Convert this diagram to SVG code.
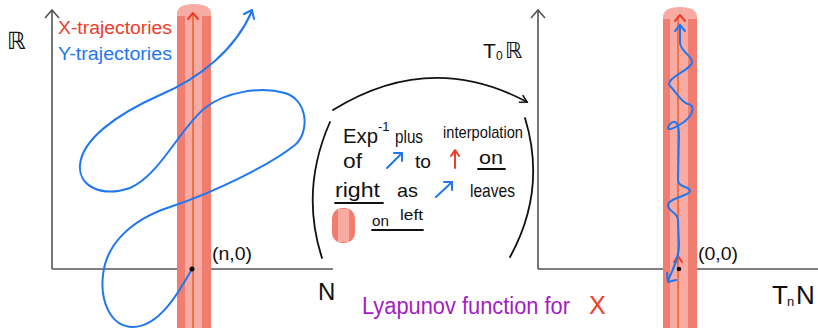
<svg xmlns="http://www.w3.org/2000/svg" width="818" height="328" viewBox="0 0 818 328">
<style>
.ax{stroke:#555;stroke-width:1.6;fill:none}
.bandD{fill:#f17c70}
.bandL{fill:#f7aba3}
.ctr{stroke:#f0622e;stroke-width:1.6;fill:none}
.blue{stroke:#1f77f2;stroke-width:2;fill:none;stroke-linecap:round;stroke-linejoin:round}
.red{stroke:#f03c28;stroke-width:2;fill:none;stroke-linecap:round;stroke-linejoin:round}
.ink{stroke:#111;stroke-width:1.8;fill:none;stroke-linecap:round}
.t{font-family:"Liberation Sans","DejaVu Sans",sans-serif;fill:#111}
.bb{font-family:"DejaVu Sans",sans-serif;fill:#111}
</style>
<defs>
<marker id="ah" markerWidth="10" markerHeight="10" refX="8" refY="5" orient="auto" markerUnits="userSpaceOnUse">
<path d="M1,1 L8,5 L1,9" fill="none" stroke="#111" stroke-width="1.6"/>
</marker>
</defs>
<rect width="818" height="328" fill="#fff"/>

<g id="left-plot">
<path class="ax" d="M52,269 V10 M45,18 L52,10 L59,18 M52,269 H333"/>
<text class="bb" x="7" y="49" font-size="24">ℝ</text>
<text class="t" x="318" y="300" font-size="24">N</text>
</g>

<g id="left-band">
<path class="bandL" d="M177,328 V14 Q177,4 194,4 Q211,4 211,14 V328 Z"/>
<rect class="bandD" x="177" y="16" width="8" height="312"/>
<rect class="bandD" x="202" y="16" width="9" height="312"/>
<path class="ctr" d="M193,328 V14"/>
<path class="red" d="M188,19 L193,13 L198,19" stroke-width="1.6"/>
</g>

<g id="legend">
<text class="t" x="58" y="34" font-size="18" style="fill:#f03c28" textLength="114" lengthAdjust="spacingAndGlyphs">X-trajectories</text>
<text class="t" x="58" y="60" font-size="18" style="fill:#1f77f2" textLength="114" lengthAdjust="spacingAndGlyphs">Y-trajectories</text>
</g>

<g id="left-trajectory">
<path class="blue" d="M192,269 C180,290 160,327 133,327 C110,327 100,300 103,275 C106,245 130,220 170,207 C215,192 270,165 295,145 C310,132 308,100 285,93 C260,86 225,92 205,108 C180,128 160,175 130,188 C100,198 78,185 80,165 C82,140 115,115 160,95 C200,78 235,50 252,11"/>
<path class="blue" d="M244,14 L252,10 L254,19"/>
<circle cx="192" cy="269" r="2.5" fill="#111"/>
<text class="t" x="212" y="260" font-size="18" textLength="40" lengthAdjust="spacingAndGlyphs">(n,0)</text>
</g>

<g id="right-plot">
<path class="ax" d="M538,269 V10 M531,18 L538,10 L545,18 M538,269 H818"/>
<text class="t" x="483" y="58" font-size="21">T</text>
<text class="t" x="496" y="60" font-size="12">0</text>
<text class="bb" x="505" y="58" font-size="22">ℝ</text>
<text class="t" x="772" y="304" font-size="26">T</text>
<text class="t" x="787" y="306" font-size="13">n</text>
<text class="t" x="796" y="304" font-size="26">N</text>
</g>

<g id="right-band">
<path class="bandL" d="M663,328 V17 Q663,7 680,7 Q697,7 697,17 V328 Z"/>
<rect class="bandD" x="663" y="19" width="7" height="309"/>
<rect class="bandD" x="688" y="19" width="9" height="309"/>
<path class="ctr" d="M678,328 V16"/>
<path class="red" d="M675,21 L680,15 L685,21" stroke-width="1.6"/>
<path class="red" d="M674,262 L678,256 L682,262" stroke-width="1.4"/>
</g>

<g id="right-trajectory">
<path class="blue" d="M668,281 C672,270 679,260 679,245 L678,220 C678,212 668,212 668,205 C668,198 690,196 690,191 C690,186 678,188 678,180 L679,135 C679,125 676,118 670,124 C664,132 672,130 684,122 C694,114 695,105 688,104 C682,103 676,92 670,86 C664,78 692,70 692,62 C692,55 680,52 680,42 L680,25"/>
<path class="blue" d="M675,31 L680,25 L685,31"/>
<path class="blue" d="M667,273 L668,282 L676,280"/>
<circle cx="679" cy="269" r="2.3" fill="#111"/>
<text class="t" x="698" y="260" font-size="18" textLength="40" lengthAdjust="spacingAndGlyphs">(0,0)</text>
</g>

<g id="connectors">
<path class="ink" d="M333,110 Q430,50 527,102" marker-end="url(#ah)"/>
</g>

<g id="note">
<path class="ink" d="M330,122 Q300,190 322,258"/>
<path class="ink" d="M525,118 Q547,190 510,257"/>
<text class="t" x="343" y="143" font-size="21" textLength="35" lengthAdjust="spacingAndGlyphs">Exp</text>
<text class="t" x="378" y="131" font-size="13">-1</text>
<text class="t" x="395" y="143" font-size="19" textLength="28" lengthAdjust="spacingAndGlyphs">plus</text>
<text class="t" x="443" y="138" font-size="17" textLength="80" lengthAdjust="spacingAndGlyphs">interpolation</text>
<text class="t" x="343" y="168" font-size="20" textLength="19" lengthAdjust="spacingAndGlyphs">of</text>
<path class="blue" d="M387,168 L402,153 M394,153 L402,153 L402,161"/>
<text class="t" x="415" y="168" font-size="19" textLength="16" lengthAdjust="spacingAndGlyphs">to</text>
<path class="red" d="M455,168 V151 M451,156 L455,150 L459,156"/>
<text class="t" x="479" y="164" font-size="19" textLength="24" lengthAdjust="spacingAndGlyphs">on</text>
<path class="ink" d="M478,169 H505" stroke="#333" stroke-width="1.3"/>
<text class="t" x="335" y="197" font-size="20" textLength="45" lengthAdjust="spacingAndGlyphs">right</text>
<path class="ink" d="M335,203 H383" stroke="#333" stroke-width="1.3"/>
<text class="t" x="397" y="197" font-size="19" textLength="21" lengthAdjust="spacingAndGlyphs">as</text>
<path class="blue" d="M436,197 L452,182 M444,182 L452,182 L452,190"/>
<text class="t" x="470" y="197" font-size="19" textLength="45" lengthAdjust="spacingAndGlyphs">leaves</text>
<rect x="332" y="208" width="23" height="35" rx="10" fill="#f17c70"/>
<rect x="338" y="209" width="11" height="33" fill="#f7aba3"/>
<text class="t" x="372" y="226" font-size="15" textLength="17" lengthAdjust="spacingAndGlyphs">on</text>
<text class="t" x="400" y="220" font-size="14" textLength="23" lengthAdjust="spacingAndGlyphs">left</text>
<path class="ink" d="M372,230 H423" stroke="#333" stroke-width="1.3"/>
</g>

<g id="caption">
<text class="t" x="362" y="314" font-size="23" style="fill:#a21cc8" textLength="208" lengthAdjust="spacingAndGlyphs">Lyapunov function for</text>
<text class="t" x="589" y="314" font-size="25" style="fill:#f03c28">X</text>
</g>
</svg>
